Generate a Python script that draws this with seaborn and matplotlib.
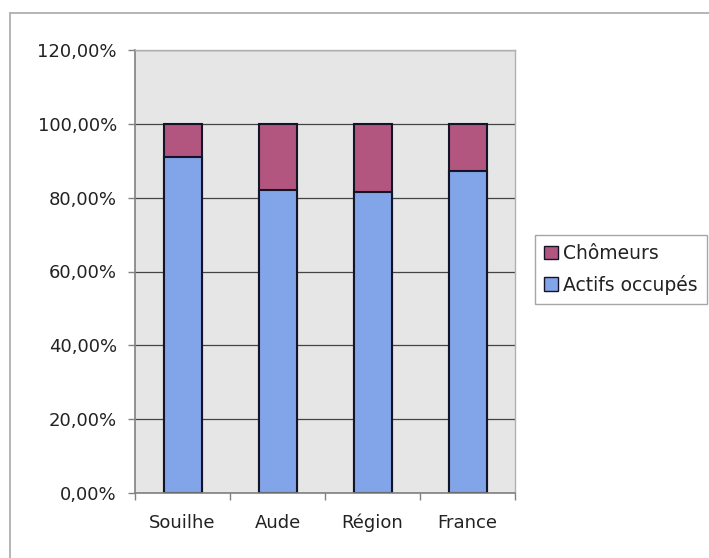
import matplotlib
matplotlib.use("Agg")
import matplotlib.pyplot as plt
import seaborn as sns
import pandas as pd
import numpy as np
from matplotlib.ticker import FuncFormatter, FixedLocator
from matplotlib.patches import Patch
from matplotlib.lines import Line2D

categories = ["Souilhe", "Aude", "Région", "France"]
actifs_occupes = [91.0, 82.1, 81.4, 87.3]
chomeurs = [9.0, 17.9, 18.6, 12.7]
y_ticks = [0, 20, 40, 60, 80, 100, 120]

sns.set_theme(style="white")
plt.rcParams['font.family'] = ['DejaVu Sans']

blue = "#82A4E8"
pink = "#B2557F"

df = pd.DataFrame({
    "zone": categories,
    "actifs": actifs_occupes,
    "total": [a + c for a, c in zip(actifs_occupes, chomeurs)],
})

fig = plt.figure(figsize=(7.09, 5.58), dpi=100)
ax = fig.add_axes([135/709, 1-493/558, (515-135)/709, (493-50)/558])
ax.set_facecolor("#E6E6E6")
ax.set_axisbelow(True)

sns.barplot(data=df, x="zone", y="total", color=pink, width=0.4,
            edgecolor="#141428", linewidth=1.5, saturation=1, ax=ax)
sns.barplot(data=df, x="zone", y="actifs", color=blue, width=0.4,
            edgecolor="#141428", linewidth=1.5, saturation=1, ax=ax)

ax.set_ylim(0, 120)
ax.set_xlim(-0.5, len(categories) - 0.5)
ax.yaxis.set_major_locator(FixedLocator(y_ticks))
ax.yaxis.set_major_formatter(FuncFormatter(lambda v, p: f"{v:.2f}".replace(".", ",") + "%"))
ax.grid(axis="y", color="#444444", linewidth=0.9)
ax.grid(axis="x", visible=False)
ax.set_xlabel("")
ax.set_ylabel("")

ax.tick_params(axis="y", which="major", left=True, length=5, width=1, color="#808080",
               pad=8, labelsize=13, labelcolor="#222222")
ax.tick_params(axis="x", which="major", bottom=False, length=0, pad=15,
               labelsize=13, labelcolor="#222222")
ax.xaxis.set_minor_locator(FixedLocator([-0.5, 0.5, 1.5, 2.5, 3.5]))
ax.tick_params(axis="x", which="minor", bottom=True, length=5, width=1, color="#808080")

for side in ["left", "bottom"]:
    ax.spines[side].set_color("#808080")
    ax.spines[side].set_linewidth(1.2)
for side in ["top", "right"]:
    ax.spines[side].set_color("#B0B0B0")
    ax.spines[side].set_linewidth(1.0)

handles = [
    Patch(facecolor=pink, edgecolor="#141428", linewidth=1.0, label="Chômeurs"),
    Patch(facecolor=blue, edgecolor="#141428", linewidth=1.0, label="Actifs occupés"),
]
leg = fig.legend(handles=handles, loc="upper left",
                 bbox_to_anchor=(535/709, 1-235/558), borderaxespad=0,
                 fontsize=13.5, frameon=True, fancybox=False,
                 handlelength=0.7, handleheight=0.7, handletextpad=0.3,
                 borderpad=0.5, labelspacing=0.6)
leg.get_frame().set_edgecolor("#909090")
leg.get_frame().set_linewidth(1.0)
for t in leg.get_texts():
    t.set_color("#222222")

# outer chart frame
fig.add_artist(Line2D([10/709, 10/709], [0, 1-13/558], transform=fig.transFigure,
                      color="#A8A8A8", linewidth=1.2))
fig.add_artist(Line2D([10/709, 1], [1-13/558, 1-13/558], transform=fig.transFigure,
                      color="#A8A8A8", linewidth=1.2))

fig.savefig("out.png", dpi=100, facecolor="white")
